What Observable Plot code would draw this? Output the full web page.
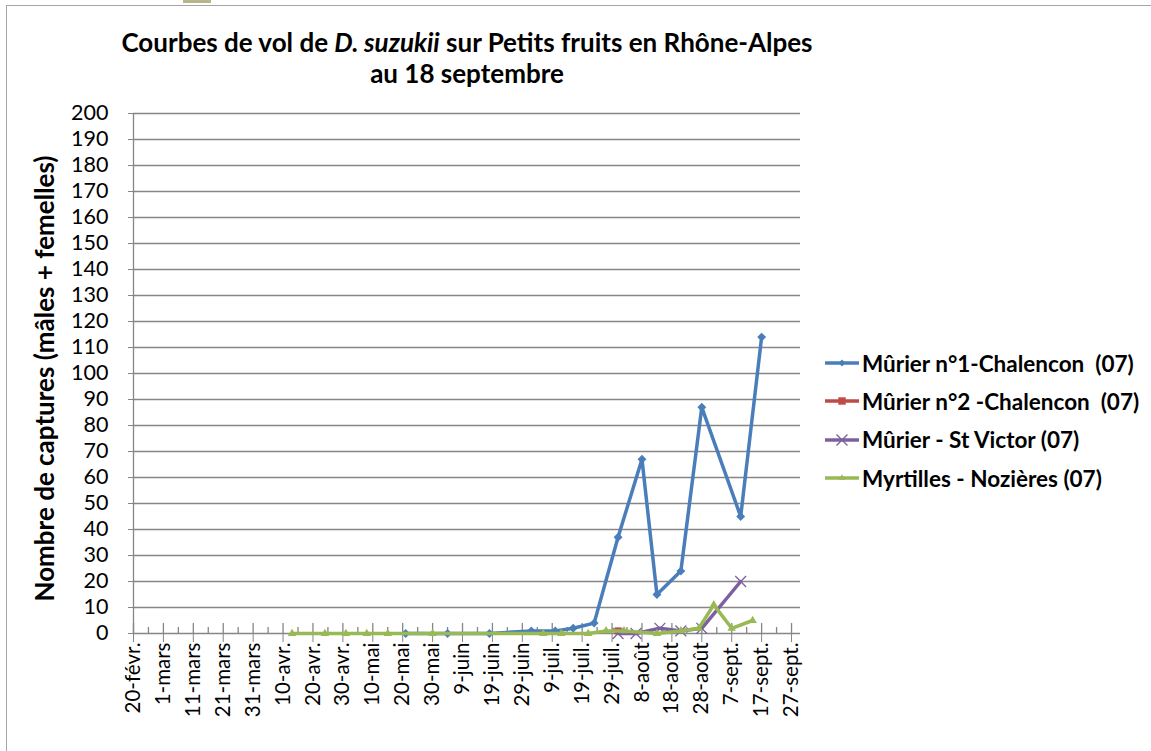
<!DOCTYPE html>
<html>
<head>
<meta charset="utf-8">
<script src="https://cdn.jsdelivr.net/npm/d3@7"></script>
<script src="https://cdn.jsdelivr.net/npm/@observablehq/plot@0.6"></script>
<style>
  html, body { margin: 0; padding: 0; background: #fff; }
  body { width: 1151px; height: 751px; position: relative; overflow: hidden; font-family: Lato, "Open Sans", sans-serif; color: #000; }
  #frame { position: absolute; left: 6px; top: 5px; width: 1200px; height: 800px; border: 1.5px solid #a6a6a6; box-sizing: border-box; }
  #tab { position: absolute; left: 183px; top: 0; width: 28px; height: 3px; background: #b9b58c; }
  #title { position: absolute; left: 0; width: 934px; top: 27px; text-align: center; font-weight: bold; font-size: 26px; line-height: 31px; }
  #chart { position: absolute; left: 0; top: 100px; }
  #legend { position: absolute; left: 824px; top: 344px; }
  .item { display: flex; align-items: center; height: 38.3px; font-weight: bold; font-size: 22.5px; white-space: pre; }
  .item svg { margin-right: 2px; }
</style>
</head>
<body>
<div id="frame"></div>
<div id="tab"></div>
<div id="title">Courbes de vol de <i>D. suzukii</i> sur Petits fruits en Rhône-Alpes<br>au 18 septembre</div>
<div id="chart"></div>
<div id="legend"></div>
<script>
// ---- Data ----
const seriesNames = ["Mûrier n°1-Chalencon  (07)", "Mûrier n°2 -Chalencon  (07)", "Mûrier - St Victor (07)", "Myrtilles - Nozières (07)"];
const seriesColors = ["#4a7ebb", "#be4b48", "#7d60a0", "#98b954"];
const seriesSymbols = ["diamond2", "square2", "times", "triangle2"];

const murier1Dates = ["2012-05-21","2012-06-04","2012-06-18","2012-07-02","2012-07-10","2012-07-16","2012-07-23","2012-07-31","2012-08-08","2012-08-13","2012-08-21","2012-08-28","2012-09-10","2012-09-17"];
const murier1Values = [0, 0, 0, 1, 1, 2, 4, 37, 67, 15, 24, 87, 45, 114];

const murier2Dates = ["2012-07-31"];
const murier2Values = [1];

const stVictorDates = ["2012-07-31","2012-08-06","2012-08-14","2012-08-21","2012-08-28","2012-09-10"];
const stVictorValues = [0, 0, 2, 1, 2, 20];

const myrtillesDates = ["2012-04-13","2012-04-24","2012-05-01","2012-05-08","2012-05-15","2012-05-30","2012-07-06","2012-07-12","2012-07-21","2012-07-27","2012-08-02","2012-08-13","2012-08-21","2012-08-27","2012-09-01","2012-09-07","2012-09-14"];
const myrtillesValues = [0, 0, 0, 0, 0, 0, 0, 0, 0, 1, 1, 0, 1, 2, 11, 2, 5];

const xTickDates = ["2012-02-20","2012-03-01","2012-03-11","2012-03-21","2012-03-31","2012-04-10","2012-04-20","2012-04-30","2012-05-10","2012-05-20","2012-05-30","2012-06-09","2012-06-19","2012-06-29","2012-07-09","2012-07-19","2012-07-29","2012-08-08","2012-08-18","2012-08-28","2012-09-07","2012-09-17","2012-09-27"];
const xTickLabels = ["20-févr.","1-mars","11-mars","21-mars","31-mars","10-avr.","20-avr.","30-avr.","10-mai","20-mai","30-mai","9-juin","19-juin","29-juin","9-juil.","19-juil.","29-juil.","8-août","18-août","28-août","7-sept.","17-sept.","27-sept."];
const yTicks = [0,10,20,30,40,50,60,70,80,90,100,110,120,130,140,150,160,170,180,190,200];
const xDomain = ["2012-02-20", "2012-09-30"];
const yTitle = "Nombre de captures (mâles + femelles)";

// ---- Build ----
const toRows = (dates, values) => dates.map((d, i) => ({date: new Date(d), value: values[i]}));
const allSeries = [
  toRows(murier1Dates, murier1Values),
  toRows(murier2Dates, murier2Values),
  toRows(stVictorDates, stVictorValues),
  toRows(myrtillesDates, myrtillesValues)
];
const majors = xTickDates.map(d => new Date(d));
const labelMap = new Map(majors.map((d, i) => [+d, xTickLabels[i]]));
const minors = majors.map(d => d3.utcDay.offset(d, 5)).filter(d => d < new Date(xDomain[1]));
const axisColor = "#868686";

const seriesMarks = allSeries.flatMap((rows, k) => {
  const sym = seriesSymbols[k];
  const dotOpts = sym === "times"
    ? {x: "date", y: "value", symbol: sym, stroke: seriesColors[k], strokeWidth: 1.3, fill: "none", r: 5}
    : {x: "date", y: "value", symbol: sym, fill: seriesColors[k], stroke: "none", r: sym === "square2" ? 4.5 : 4};
  return [
    Plot.line(rows, {x: "date", y: "value", stroke: seriesColors[k], strokeWidth: 3.5, strokeLinejoin: "round"}),
    Plot.dot(rows, dotOpts)
  ];
});

const chart = Plot.plot({
  width: 820,
  height: 648,
  marginLeft: 133,
  marginRight: 20,
  marginTop: 13,
  marginBottom: 115,
  style: {fontFamily: "Lato, sans-serif", background: "transparent", overflow: "visible", color: "#000"},
  x: {type: "utc", domain: xDomain.map(d => new Date(d))},
  y: {domain: [0, 200]},
  marks: [
    Plot.gridY(yTicks.filter(d => d > 0), {stroke: axisColor, strokeOpacity: 1, strokeWidth: 1.3}),
    Plot.axisY({ticks: yTicks, tickSize: 5, tickPadding: 20, fontSize: 21.5, fontWeight: 400, stroke: axisColor, tickFormat: d => String(d), label: null}),
    Plot.ruleX([new Date(xDomain[0])], {stroke: axisColor, strokeWidth: 1.3}),
    Plot.ruleY([0], {stroke: axisColor, strokeWidth: 1.3}),
    Plot.axisX({ticks: majors, tickSize: 9, tickPadding: 0, tickRotate: -90, fontSize: 20.5, stroke: axisColor, tickFormat: d => labelMap.get(+d), label: null}),
    Plot.ruleX(majors, {x: d => d, y1: 0, y2: 0, insetTop: -10, stroke: axisColor, strokeWidth: 1.3}),
    Plot.ruleX(minors, {x: d => d, y1: 0, y2: 0, insetTop: -6, stroke: axisColor, strokeWidth: 1.3}),
    Plot.text([yTitle], {frameAnchor: "left", textAnchor: "middle", rotate: -90, dx: -88, dy: 5, fontWeight: "bold", fontSize: 26, fill: "#000"}),
    ...seriesMarks
  ]
});
document.getElementById("chart").appendChild(chart);

// ---- Legend ----
const legend = document.getElementById("legend");
seriesNames.forEach((name, k) => {
  const item = document.createElement("div");
  item.className = "item";
  const svg = d3.create("svg").attr("width", 36).attr("height", 16);
  svg.append("line").attr("x1", 1).attr("x2", 35).attr("y1", 8).attr("y2", 8)
    .attr("stroke", seriesColors[k]).attr("stroke-width", 3.5);
  const sym = seriesSymbols[k];
  const symType = {diamond2: d3.symbolDiamond2, square2: d3.symbolSquare2, times: d3.symbolTimes, triangle2: d3.symbolTriangle2}[sym];
  const size = sym === "times" ? 80 : sym === "square2" ? 70 : 30;
  const p = svg.append("path").attr("d", d3.symbol(symType, size)()).attr("transform", "translate(18,8)");
  if (sym === "times") p.attr("fill", "none").attr("stroke", seriesColors[k]).attr("stroke-width", 1.3);
  else p.attr("fill", seriesColors[k]);
  item.appendChild(svg.node());
  const span = document.createElement("span");
  span.textContent = name;
  item.appendChild(span);
  legend.appendChild(item);
});
</script>
</body>
</html>
